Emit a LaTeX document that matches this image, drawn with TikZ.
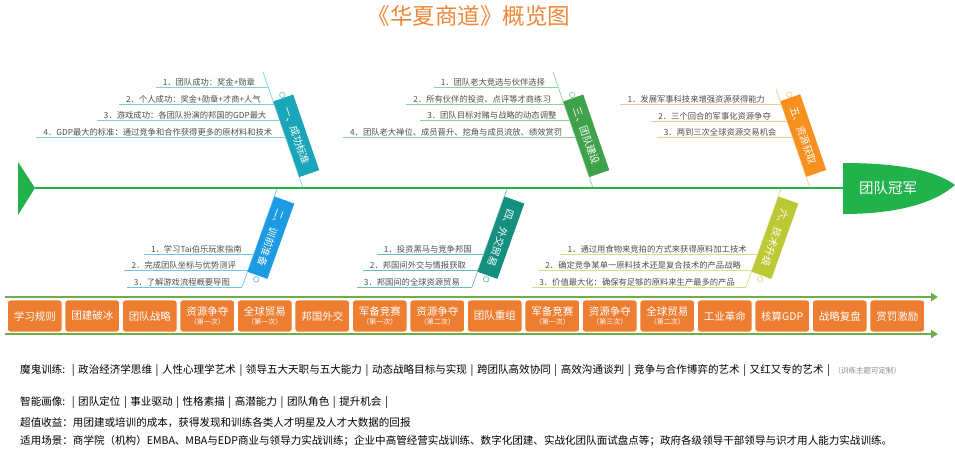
\documentclass[tikz,border=0pt]{standalone}
\usepackage{fontspec}
\setmainfont{Noto Sans CJK SC}
\usetikzlibrary{calc, arrows.meta}
\definecolor{spinegreen}{HTML}{21B24B}
\definecolor{bandgreen}{HTML}{6BAF47}
\definecolor{stepfill}{HTML}{ED7D31}
\definecolor{titleorange}{HTML}{F08637}
\definecolor{itemgray}{HTML}{4D4D4D}
\definecolor{notegray}{HTML}{8C8C8C}
\definecolor{cone}{HTML}{1AA5B8}
\definecolor{conel}{HTML}{7CCFDB}
\definecolor{ctwo}{HTML}{1C9BE3}
\definecolor{ctwol}{HTML}{6EC3EF}
\definecolor{cthree}{HTML}{3FA14A}
\definecolor{cthreel}{HTML}{95CF98}
\definecolor{cfour}{HTML}{15907F}
\definecolor{cfourl}{HTML}{6CBDB2}
\definecolor{cfive}{HTML}{F7901E}
\definecolor{cfivel}{HTML}{FBC68C}
\definecolor{csix}{HTML}{BCC834}
\definecolor{csixl}{HTML}{D6DE86}
\newcommand{\barsep}{\makebox[0.95em]{|}}
\newcommand{\halfcolon}{\makebox[0.55em][l]{:}}
\tikzset{
	itemtext/.style={font=\fontsize{8.3}{9}\selectfont, text=itemgray, inner sep=1pt, anchor=south east}
}
\tikzset{
	itemline/.style={line width=0.8pt},
	bone/.style={line width=0.7pt},
	catbox/.style={rectangle, minimum width=80pt, minimum height=21pt, inner sep=0pt,
		text=white, font=\fontsize{10}{10}\selectfont, sloped, anchor=south},
	knob/.style={circle, draw, fill=white, line width=0.7pt, minimum size=5.5pt, inner sep=0pt},
	stepbox/.style={rectangle, rounded corners=3pt, fill=stepfill, draw=white, line width=0.6pt,
		minimum width=54.5pt, minimum height=32pt, inner sep=0pt, text=white, align=center,
		font=\fontsize{10.5}{12}\selectfont},
	bandline/.style={bandgreen, line width=2.6pt, -{Triangle[length=7pt, width=8pt]}},
	bottomtext/.style={font=\fontsize{10.55}{12}\selectfont, anchor=west, inner sep=0pt}
}

\begin{document}
\begin{tikzpicture}[x=1pt, y=-1pt]
      \useasboundingbox (0,0) rectangle (955,464);

      % title
      \node[font=\fontsize{22.5}{26}\selectfont, text=titleorange] (title) at (469,16) {《华夏商道》概览图};

      % bone ends
      \coordinate (T1) at (263,72);  \coordinate (S1) at (303,188);
      \coordinate (T3) at (553,72);  \coordinate (S3) at (593,188);
      \coordinate (T5) at (776,89);  \coordinate (S5) at (810,188);
      \coordinate (S2) at (277,189); \coordinate (B2) at (242,287);
      \coordinate (S4) at (507,189); \coordinate (B4) at (472,287);
      \coordinate (S6) at (781,189); \coordinate (B6) at (746,287);

      \draw[bone, conel] (T1) -- (S1);
      \draw[bone, cthreel] (T3) -- (S3);
      \draw[bone, cfivel] (T5) -- (S5);
      \draw[bone, ctwol] (S2) -- (B2);
      \draw[bone, cfourl] (S4) -- (B4);
      \draw[bone, csixl] (S6) -- (B6);

      % spine, tail and head
      \coordinate (tail) at (35,188);
      \coordinate (headw) at (843,188);
      \fill[spinegreen] (18,162) -- (tail) -- (18,215) -- cycle;
      \draw[spinegreen, line width=2.2pt] (tail) -- (headw);
      \fill[spinegreen] (843,163) -- (843,214) .. controls (905,214) and (938,200) .. (955,185)
        .. controls (936,171) and (902,163) .. (843,163);
      \node[text=white, font=\fontsize{14.5}{16}\selectfont] (head) at (888,188) {团队冠军};

      % category boxes
      \path (T1) -- (S1) node[catbox, fill=cone, pos=0.58] (cat1) {一、成功标准};
      \path (T3) -- (S3) node[catbox, fill=cthree, pos=0.58] (cat3) {三、团队建设};
      \path (T5) -- (S5) node[catbox, fill=cfive, pos=0.505] (cat5) {五、资源获取};
      \path (S2) -- (B2) node[catbox, fill=ctwo, pos=0.46, allow upside down] (cat2) {二、训前准备};
      \path (S4) -- (B4) node[catbox, fill=cfour, pos=0.46, allow upside down] (cat4) {四、外交贸易};
      \path (S6) -- (B6) node[catbox, fill=csix, pos=0.46, allow upside down] (cat6) {六、技术升级};

      \node[knob, draw=conel] (k1) at ($(cat1.west)!-3pt!(cat1.east)$) {};
      \node[knob, draw=cthreel] (k3) at ($(cat3.west)!-3pt!(cat3.east)$) {};
      \node[knob, draw=cfivel] (k5) at ($(cat5.west)!-3pt!(cat5.east)$) {};
      \node[knob, draw=ctwol] (k2) at ($(cat2.east)!-4pt!(cat2.west)$) {};
      \node[knob, draw=cfourl] (k4) at ($(cat4.east)!-4pt!(cat4.west)$) {};
      \node[knob, draw=csixl] (k6) at ($(cat6.east)!-4pt!(cat6.west)$) {};

      % items of 一
      \foreach \y/\t [count=\k] in {87/{1．团队成功：奖金+勋章}, 104/{2．个人成功：奖金+勋章+才商+人气},
          120/{3．游戏成功：各团队扮演的邦国的GDP最大}, 137/{4．GDP最大的标准：通过竞争和合作获得更多的原材料和技术}} {
        \pgfmathsetmacro\bx{263+0.345*(\y-72)}
        \coordinate (a\k) at (\bx,\y);
        \node[itemtext] (a\k t) at (\bx-12,\y) {\t};
        \draw[itemline, conel] ([xshift=-6pt]a\k t.south west) -- (a\k);
      }
      % items of 三
      \foreach \y/\t [count=\k] in {87/{1．团队老大竞选与伙伴选择}, 104/{2．所有伙伴的投资、点评等才商练习},
          120/{3．团队目标对赌与战略的动态调整}, 137/{4．团队老大禅位、成员晋升、挖角与成员流放、绩效赏罚}} {
        \pgfmathsetmacro\bx{553+0.345*(\y-72)}
        \coordinate (c\k) at (\bx,\y);
        \node[itemtext] (c\k t) at (\bx-12,\y) {\t};
        \draw[itemline, cthreel] ([xshift=-6pt]c\k t.south west) -- (c\k);
      }
      % items of 五
      \foreach \y/\t [count=\k] in {104/{1．发展军事科技来增强资源获得能力}, 121/{2．三个回合的军事化资源争夺},
          137/{3．两到三次全球资源交易机会}} {
        \pgfmathsetmacro\bx{776+0.345*(\y-89)}
        \coordinate (e\k) at (\bx,\y);
        \node[itemtext] (e\k t) at (\bx-15,\y) {\t};
        \draw[itemline, cfivel] ([xshift=-6pt]e\k t.south west) -- (e\k);
      }
      % items of 二
      \foreach \y/\t [count=\k] in {254/{1．学习Tai伯乐玩家指南}, 270/{2．完成团队坐标与优势测评},
          287/{3．了解游戏流程概要导图}} {
        \pgfmathsetmacro\bx{277-0.357*(\y-189)}
        \coordinate (b\k) at (\bx,\y);
        \node[itemtext] (b\k t) at (\bx-11,\y) {\t};
        \draw[itemline, ctwol] ([xshift=-6pt]b\k t.south west) -- (b\k);
      }
      % items of 四
      \foreach \y/\t [count=\k] in {254/{1．投资黑马与竞争邦国}, 270/{2．邦国间外交与情报获取},
          287/{3．邦国间的全球资源贸易}} {
        \pgfmathsetmacro\bx{507-0.357*(\y-189)}
        \coordinate (d\k) at (\bx,\y);
        \node[itemtext] (d\k t) at (\bx-11,\y) {\t};
        \draw[itemline, cfourl] ([xshift=-6pt]d\k t.south west) -- (d\k);
      }
      % items of 六
      \foreach \y/\t [count=\k] in {254/{1．通过用食物来竞拍的方式来获得原料加工技术}, 270/{2．确定竞争某单一原料技术还是复合技术的产品战略},
          287/{3．价值最大化：确保有足够的原料来生产最多的产品}} {
        \pgfmathsetmacro\bx{781-0.357*(\y-189)}
        \coordinate (f\k) at (\bx,\y);
        \node[itemtext] (f\k t) at (\bx-10,\y) {\t};
        \draw[itemline, csixl] ([xshift=-6pt]f\k t.south west) -- (f\k);
      }

      % process band
      \coordinate (bandA) at (5,297);  \coordinate (bandAe) at (938,297);
      \coordinate (bandB) at (5,334);  \coordinate (bandBe) at (938,334);
      \draw[bandline] (bandA) -- (bandAe);
      \draw[bandline] (bandB) -- (bandBe);
      \foreach \i/\a in {1/学习规则, 2/团建破冰, 3/团队战略, 6/邦国外交, 9/团队重组,
                         13/工业革命, 14/核算GDP, 15/战略复盘, 16/赏罚激励} {
        \node[stepbox] (p\i) at (34.75+57.5*\i-57.5,316) {\a};
      }
      \foreach \i/\a/\b in {4/资源争夺/第一次, 5/全球贸易/第一次, 7/军备竞赛/第一次, 8/资源争夺/第二次,
                            10/军备竞赛/第一次, 11/资源争夺/第三次, 12/全球贸易/第二次} {
        \node[stepbox] (p\i) at (34.75+57.5*\i-57.5,316)
          {\a\\[-3pt]{\fontsize{7}{8}\selectfont （\b）}};
      }

      % notes below
      \node[bottomtext] (n1) at (20,370) {魔鬼训练\halfcolon\barsep 政治经济学思维\barsep 人性心理学艺术\barsep 领导五大天职与五大能力\barsep 动态战略目标与实现\barsep 跨团队高效协同\barsep 高效沟通谈判\barsep 竞争与合作博弈的艺术\barsep 又红又专的艺术\barsep{\color{notegray}\fontsize{7.5}{8}\selectfont （训练主题可定制）}};
      \node[bottomtext] (n2) at (20,402) {智能画像\halfcolon\barsep 团队定位\barsep 事业驱动\barsep 性格素描\barsep 高潜能力\barsep 团队角色\barsep 提升机会\barsep};
      \node[bottomtext] (n3) at (20,423) {超值收益：用团建或培训的成本，获得发现和训练各类人才明星及人才大数据的回报};
      \node[bottomtext] (n4) at (20,441) {适用场景：商学院（机构）EMBA、MBA与EDP商业与领导力实战训练；企业中高管经营实战训练、数字化团建、实战化团队面试盘点等；政府各级领导干部领导与识才用人能力实战训练。};
    \end{tikzpicture}
\end{document}
